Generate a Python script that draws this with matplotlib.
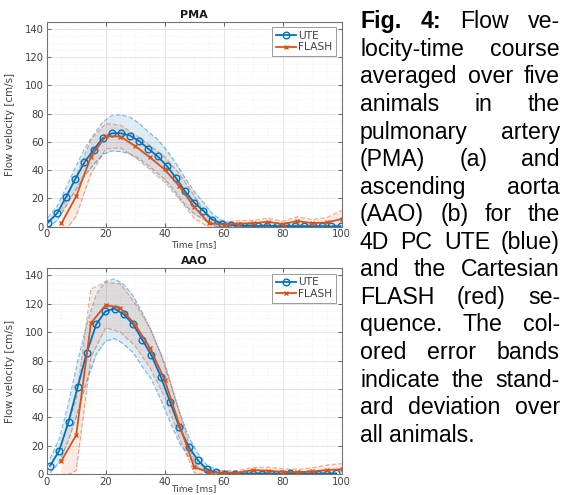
import numpy as np
import matplotlib.pyplot as plt
from matplotlib.ticker import MultipleLocator

# ------------------------------------------------------
# data (time in ms, velocity in cm/s)
# ------------------------------------------------------
# PMA
t_ute_pma = [0.4, 3.5, 6.6, 9.7, 12.8, 15.9, 19.0, 22.1, 25.2, 28.3, 31.4, 34.5,
             37.6, 40.7, 43.8, 46.9, 50.0, 53.1, 56.2, 59.3, 62.4, 65.5, 68.6,
             71.7, 74.8, 77.9, 81.0, 84.1, 87.2, 90.3, 93.4, 96.5, 99.6]
v_ute_pma = [2.8, 9.4, 21.2, 33.8, 45.5, 54.5, 62.6, 66.1, 66.1, 64.4, 60.5, 55.0,
             49.8, 43.0, 34.5, 25.0, 17.0, 11.3, 5.0, 2.2, 1.2, 0.8, 0.6,
             0.5, 0.6, 0.4, 0.5, 0.3, 0.4, 0.2, 0.3, 0.2, 0.3]
sd_ute_pma = [3.5, 5.0, 6.5, 8.0, 9.5, 10.5, 11.5, 12.5, 13.0, 13.0, 12.5, 12.0,
              12.0, 11.0, 10.5, 9.5, 8.0, 6.0, 4.0, 2.5, 1.5, 1.0, 1.0,
              0.8, 0.8, 0.8, 0.8, 0.8, 0.8, 0.8, 0.8, 0.8, 0.8]

t_flash = [5, 10, 15, 20, 25, 30, 35, 40, 45, 50,
           55, 60, 65, 70, 75, 80, 85, 90, 95, 100]
v_flash_pma = [2.4, 21.5, 49.6, 64.0, 63.8, 57.0, 49.0, 40.5, 28.5, 14.0,
               2.5, 1.5, 2.2, 2.5, 3.5, 1.8, 4.0, 2.5, 3.0, 5.5]
sd_flash_pma = [9, 14, 12, 9, 8, 8, 8.5, 9, 9, 8,
                3, 1.5, 2, 2, 2.5, 2, 3, 2.5, 3.5, 6]

# AAO
t_ute_aao = [1.1, 4.2, 7.4, 10.5, 13.6, 16.8, 19.9, 23.0, 26.1, 29.3, 32.4, 35.5,
             38.7, 41.8, 44.9, 48.1, 51.2, 54.3, 57.4, 60.6, 63.7, 66.8, 70.0,
             73.1, 76.2, 79.4, 82.5, 85.6, 88.7, 91.9, 95.0, 98.1]
v_ute_aao = [5.9, 16.4, 37.0, 61.6, 85.7, 105.6, 114.7, 116.6, 112.6, 105.6, 94.8, 83.8,
             68.6, 51.0, 33.5, 19.4, 10.0, 3.5, 1.4, 0.5, 0.3, 0.4, 0.3,
             0.5, 0.3, 0.4, 0.6, 0.3, 0.4, 0.5, 0.4, 0.6]
sd_ute_aao = [5, 8, 13, 18, 20, 21, 21, 21, 21, 20, 19, 17,
              16, 14, 11, 7, 5, 3, 2, 1.2, 1, 1, 1,
              1, 1, 1, 1, 1, 1, 1, 1, 1]

v_flash_aao = [9.6, 27.6, 106.5, 119.2, 117.0, 105.3, 89.0, 66.3, 34.7, 5.0,
               1.5, 1.0, 1.2, 3.0, 2.5, 1.8, 1.5, 2.0, 3.0, 3.5]
sd_flash_aao = [12, 25, 24, 16, 17, 15, 14, 12, 9, 4,
                2, 1.5, 1.5, 2, 2.5, 2, 2, 2.5, 3.5, 4]

caption = ["Fig. 4: Flow ve-",
           "locity-time course",
           "averaged over five",
           "animals in the",
           "pulmonary artery",
           "(PMA) (a) and",
           "ascending aorta",
           "(AAO) (b) for the",
           "4D PC UTE (blue)",
           "and the Cartesian",
           "FLASH (red) se-",
           "quence. The col-",
           "ored error bands",
           "indicate the stand-",
           "ard deviation over",
           "all animals."]

# ------------------------------------------------------
# figure
# ------------------------------------------------------
c_ute = (0.0, 0.447, 0.741)
c_flash = (0.850, 0.325, 0.098)
W, H = 566, 495

fig = plt.figure(figsize=(W / 100, H / 100), dpi=100)
plt.rcParams['font.family'] = 'DejaVu Sans'


def panel(rect, title, t_u, v_u, s_u, t_f, v_f, s_f, xlab_y):
    ax = fig.add_axes(rect)
    v_u, s_u = np.array(v_u), np.array(s_u)
    v_f, s_f = np.array(v_f), np.array(s_f)

    # error bands
    ax.fill_between(t_u, v_u - s_u, v_u + s_u, color=c_ute, alpha=0.13, lw=0)
    ax.fill_between(t_f, v_f - s_f, v_f + s_f, color=c_flash, alpha=0.11, lw=0)
    for t, v, s, c in [(t_u, v_u, s_u, c_ute), (t_f, v_f, s_f, c_flash)]:
        ax.plot(t, v + s, '--', color=c, alpha=0.45, lw=0.9)
        ax.plot(t, v - s, '--', color=c, alpha=0.45, lw=0.9)

    ax.plot(t_u, v_u, '-o', color=c_ute, lw=1.3, ms=4.8, mfc='none', mew=1.0, label='UTE')
    ax.plot(t_f, v_f, '-x', color=c_flash, lw=1.3, ms=3.5, mew=1.0, label='FLASH')

    ax.set_xlim(0, 100)
    ax.set_ylim(0, 145)
    ax.xaxis.set_major_locator(MultipleLocator(20))
    ax.yaxis.set_major_locator(MultipleLocator(20))
    ax.xaxis.set_minor_locator(MultipleLocator(5))
    ax.yaxis.set_minor_locator(MultipleLocator(5))
    ax.grid(which='major', color='0.86', lw=0.5)
    ax.grid(which='minor', color='0.9', lw=0.4, ls=':')
    ax.set_axisbelow(True)
    ax.tick_params(which='major', direction='in', length=3, width=0.6, top=True, right=True,
                   labelsize=7.2, labelcolor='0.25', color='0.3', pad=2)
    ax.tick_params(which='minor', length=0)
    for sp in ax.spines.values():
        sp.set_color('0.45')
        sp.set_linewidth(0.8)

    ax.set_title(title, fontsize=8, fontweight='bold', pad=3, color='0.1')
    ax.set_xlabel('Time [ms]', fontsize=6.5, color='0.25')
    ax.set_ylabel('Flow velocity [cm/s]', fontsize=7.4, color='0.25')
    ax.xaxis.set_label_coords(0.5, xlab_y)
    ax.xaxis.label.set_va('center')
    ax.yaxis.set_label_coords(-0.107, 0.5)

    leg = ax.legend(loc='upper right', fontsize=7.7, handlelength=1.9, handletextpad=0.2,
                    borderaxespad=0.5, borderpad=0.35, labelspacing=0.15,
                    fancybox=False, framealpha=1)
    leg.get_frame().set_edgecolor('0.55')
    leg.get_frame().set_linewidth(0.6)
    for txt in leg.get_texts():
        txt.set_color('0.25')
    return ax


ax1 = panel([46.7 / W, 1 - 226.7 / H, 295 / W, 205 / H], 'PMA',
            t_ute_pma, v_ute_pma, sd_ute_pma, t_flash, v_flash_pma, sd_flash_pma, -0.085)
ax2 = panel([46.7 / W, 1 - 474.3 / H, 295 / W, 206 / H], 'AAO',
            t_ute_aao, v_ute_aao, sd_ute_aao, t_flash, v_flash_aao, sd_flash_aao, -0.07)

# ------------------------------------------------------
# justified caption on the right
# ------------------------------------------------------
fig.canvas.draw()
renderer = fig.canvas.get_renderer()
x_left, x_right = 360.0, 560.0
cap_size = 16.7
for i, line in enumerate(caption):
    y = 1 - (28.3 + 27.56 * i) / H
    words = line.split()
    texts = []
    for j, w in enumerate(words):
        bold = (i == 0 and j < 2)
        texts.append(fig.text(0, y, w, fontsize=cap_size, family='Liberation Sans',
                              fontweight='bold' if bold else 'normal',
                              va='baseline', ha='left', color='black'))
    widths = [t.get_window_extent(renderer).width for t in texts]
    if i == len(caption) - 1 or len(words) == 1:
        gap = 0.278 * cap_size * 100 / 72
    else:
        gap = (x_right - x_left - sum(widths)) / (len(words) - 1)
    x = x_left
    for t, wd in zip(texts, widths):
        t.set_x(x / W)
        x += wd + gap

fig.savefig('out.png', dpi=100)
